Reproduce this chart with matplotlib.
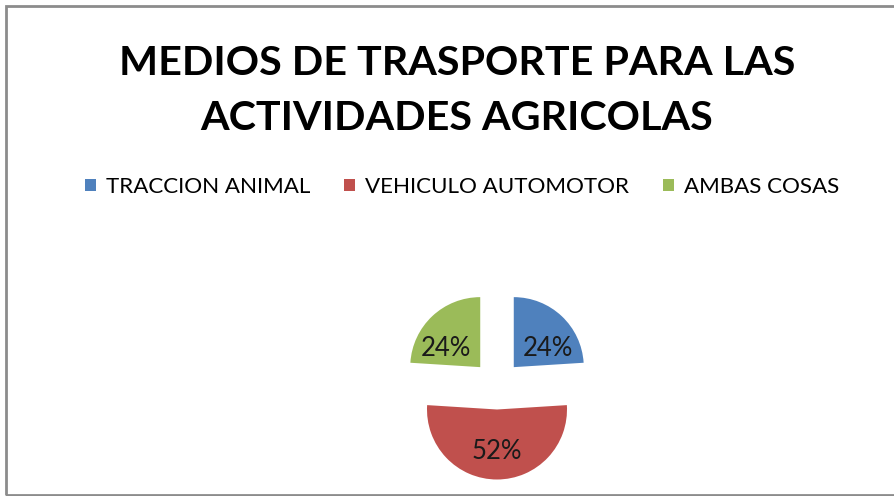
import matplotlib
matplotlib.use('agg')
import matplotlib.pyplot as plt
from matplotlib.patches import Rectangle, Patch

labels = ['TRACCION ANIMAL', 'VEHICULO AUTOMOTOR', 'AMBAS COSAS']
values = [24, 52, 24]
colors = ['#4F81BD', '#C0504D', '#9BBB59']
title_lines = ['MEDIOS DE TRASPORTE PARA LAS', 'ACTIVIDADES AGRICOLAS']

plt.rcParams['font.family'] = ['Lato', 'DejaVu Sans']

W, H = 894, 496
fig = plt.figure(figsize=(W / 100, H / 100), dpi=100)
fig.patch.set_facecolor('white')

# chart frame
fig.patches.append(Rectangle((5.5 / W, 1.5 / H), 1.2, (H - 7) / H, transform=fig.transFigure,
                             fill=False, edgecolor='#8c8c8c', linewidth=2))

# two title lines, baselines 55 px apart
for i, line in enumerate(title_lines):
    fig.text(457 / W, 1 - (75 + 55 * i) / H, line, ha='center', va='baseline',
             fontsize=29.7, fontweight='bold')

handles = [Patch(facecolor=c, edgecolor='none') for c in colors]
fig.legend(handles, labels, loc='center', bbox_to_anchor=(462 / W, 1 - 187 / H), ncol=3,
           frameon=False, fontsize=16.1, handlelength=0.5, handleheight=0.5,
           handletextpad=0.45, columnspacing=1.5)

# pie axes: radius 70 px, centre at (497, 385) px from top-left
r = 70
cx, cy = 497, H - 385
half = 150
ax = fig.add_axes([(cx - half) / W, (cy - half) / H, 2 * half / W, 2 * half / H])
wedges, _, autotexts = ax.pie(values, colors=colors, startangle=90, counterclock=False,
                              explode=[0.35] * 3, autopct='%1.0f%%', pctdistance=0.6,
                              frame=True, wedgeprops=dict(linewidth=0))
ax.set_xlim(-half / r, half / r)
ax.set_ylim(-half / r, half / r)
ax.axis('off')
for t in autotexts:
    t.set_fontsize(18.5)
    t.set_color('#1a1a1a')
    x, y = t.get_position()
    if y > 0:
        # Excel sits the small-slice labels lower in the slice
        t.set_position((x + 0.08, y - 0.17) if x > 0 else (x - 0.08, y - 0.17))
for w in wedges:
    w.set_clip_on(False)

fig.savefig('out.png', dpi=100)
